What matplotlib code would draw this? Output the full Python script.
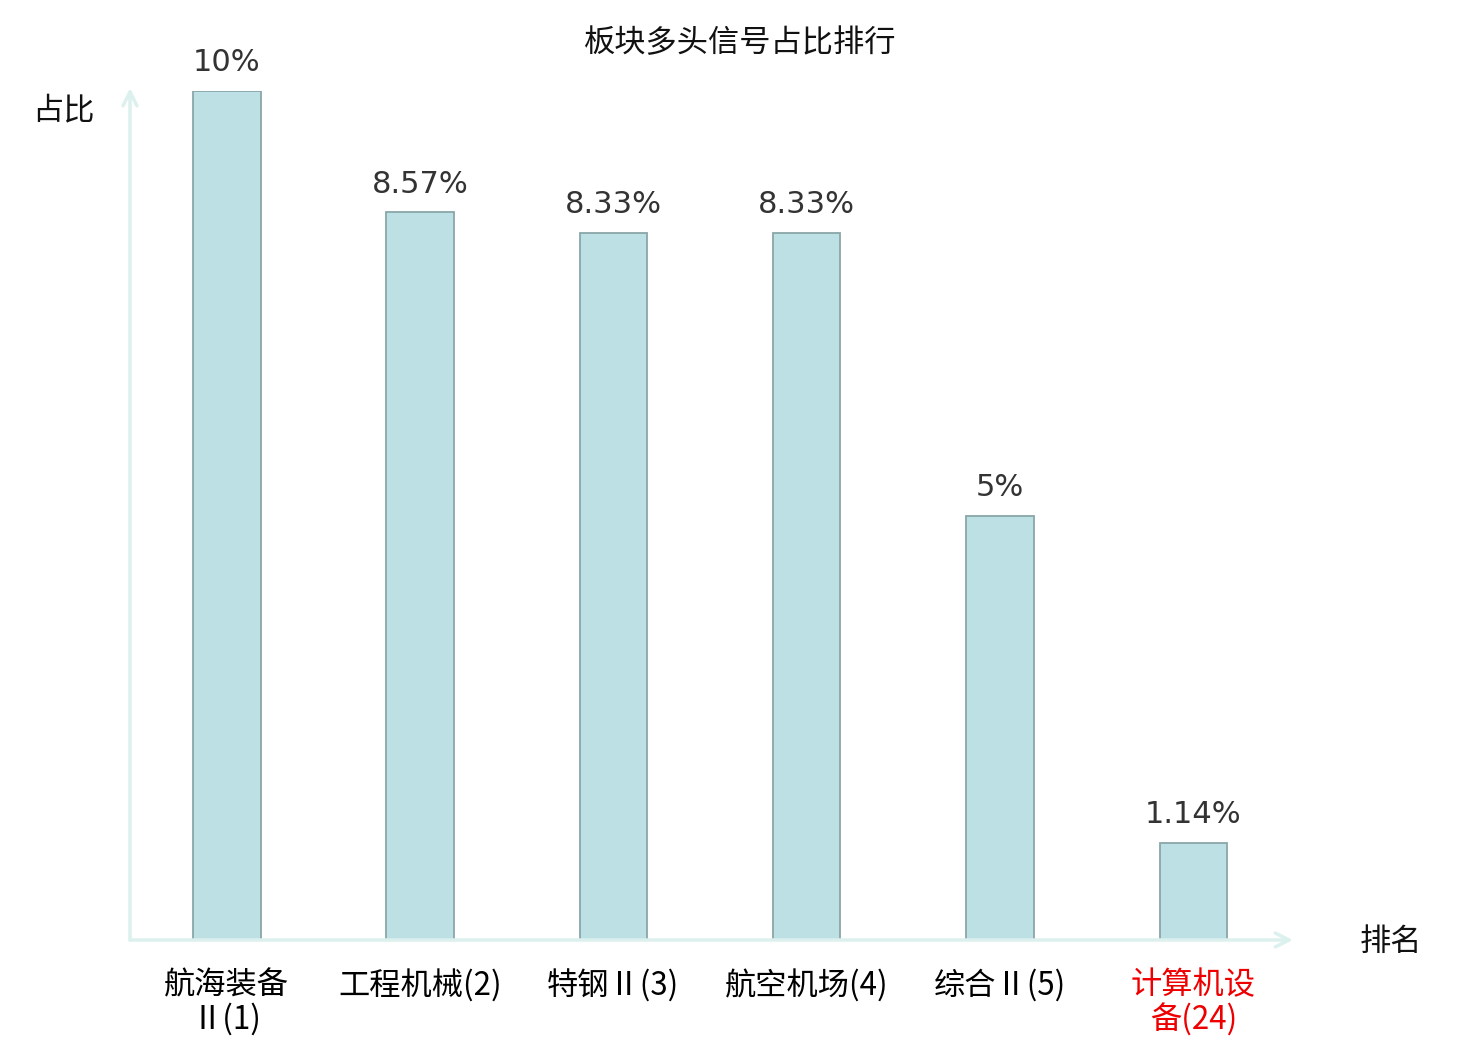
import matplotlib
matplotlib.use("Agg")
import matplotlib.pyplot as plt

plt.rcParams['font.family'] = ['Noto Sans CJK SC', 'DejaVu Sans']

categories = ["航海装备\nⅡ(1)", "工程机械(2)", "特钢Ⅱ(3)", "航空机场(4)", "综合Ⅱ(5)", "计算机设\n备(24)"]
values = [10, 8.57, 8.33, 8.33, 5, 1.14]
value_labels = ["10%", "8.57%", "8.33%", "8.33%", "5%", "1.14%"]
label_colors = ["#000000", "#000000", "#000000", "#000000", "#000000", "#ee0000"]
title = "板块多头信号占比排行"
y_name = "占比"
x_name = "排名"

W, H = 1480, 1040
fig = plt.figure(figsize=(W / 100, H / 100), dpi=100)
left, right, bottom, top = 130, 1290, 940, 91
ax = fig.add_axes([left / W, 1 - bottom / H, (right - left) / W, (bottom - top) / H])
ax.set_xlim(-0.5, len(values) - 0.5)
ax.set_ylim(0, 10)

x = list(range(len(values)))
ax.bar(x, values, width=0.35, color="#bce0e3", edgecolor="#8aa7a8", linewidth=1.3, zorder=3)
for xi, v, lab in zip(x, values, value_labels):
    ax.annotate(lab, (xi, v), xytext=(0, 10), textcoords="offset points",
                ha="center", va="bottom", fontsize=22, color="#333333",
                family=["DejaVu Sans"])

for s in ax.spines.values():
    s.set_visible(False)
ax.set_yticks([])
ax.set_xticks(x)
ax.set_xticklabels(categories, fontsize=22.5, linespacing=1.08)
for t, c in zip(ax.get_xticklabels(), label_colors):
    t.set_color(c)
ax.tick_params(axis="x", length=0, pad=21)

axis_col = "#dcf1ee"
ax.annotate("", xy=(1 + 3 / (right - left), 0), xytext=(0, 0), xycoords="axes fraction",
            arrowprops=dict(arrowstyle="->,head_length=1.0,head_width=0.5", color=axis_col, lw=2.5,
                            shrinkA=0, shrinkB=0), annotation_clip=False)
ax.annotate("", xy=(0, 1 + 3 / (bottom - top)), xytext=(0, 0), xycoords="axes fraction",
            arrowprops=dict(arrowstyle="->,head_length=1.0,head_width=0.5", color=axis_col, lw=2.5,
                            shrinkA=0, shrinkB=0), annotation_clip=False)

fig.text(740 / W, 1 - 43 / H, title, ha="center", va="center", fontsize=22.5, color="#111111")
fig.text(63 / W, 1 - 110 / H, y_name, ha="center", va="center", fontsize=22.5, color="#111111")
fig.text(1391 / W, 1 - 942 / H, x_name, ha="center", va="center", fontsize=22.5, color="#111111")

fig.savefig("out.png", dpi=100, facecolor="white")
